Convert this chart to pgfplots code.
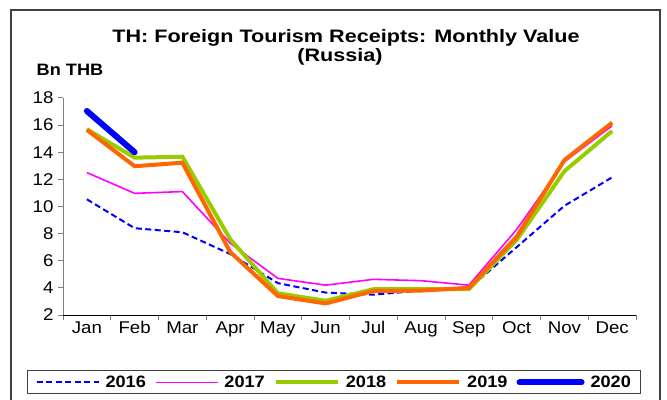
\documentclass[border=0pt]{standalone}
\usepackage{fontspec}
\setmainfont{Liberation Sans}[FakeStretch=1.1]
\newfontfamily\titlefont{Liberation Sans}[FakeStretch=1.2]
\usepackage{pgfplots}
\pgfplotsset{compat=1.18}
\definecolor{c16}{RGB}{0,0,255}
\definecolor{c17}{RGB}{255,0,255}
\definecolor{c18}{RGB}{153,204,0}
\definecolor{c19}{RGB}{255,102,0}
\definecolor{c20}{RGB}{0,0,255}
\definecolor{framegray}{RGB}{64,64,64}
\begin{document}
\begin{tikzpicture}
\path[use as bounding box] (0,0) rectangle (667bp,400bp);
\draw[framegray, line width=1.2bp] (11bp,0bp) -- (11bp,390bp) -- (660bp,390bp) -- (660bp,0bp);
\node[anchor=base, font=\titlefont\fontsize{18bp}{21bp}\bfseries, inner sep=0pt] at (346bp,357.3bp) {TH: Foreign Tourism Receipts: Monthly Value};
\node[anchor=base, font=\titlefont\fontsize{18bp}{21bp}\bfseries, inner sep=0pt] at (340bp,338bp) {(Russia)};
\node[anchor=base west, font=\fontsize{16.5bp}{19bp}\bfseries, inner sep=0pt] at (36.5bp,324bp) {Bn THB};
\begin{axis}[
  at={(63bp,85bp)}, anchor=south west,
  scale only axis, width=573bp, height=217bp,
  xmin=-0.5, xmax=11.5, ymin=2, ymax=18,
  axis lines*=left,
  x axis line style={black, line width=1bp},
  y axis line style={gray, line width=1bp},
  tick align=outside,
  major tick length=5bp,
  every tick/.style={gray, line width=1bp},
  xtick={-0.5,0.5,...,11.5},
  xticklabels={},
  extra x ticks={0,1,...,11},
  extra x tick labels={Jan,Feb,Mar,Apr,May,Jun,Jul,Aug,Sep,Oct,Nov,Dec},
  extra x tick style={major tick length=0pt, xticklabel style={yshift=-3bp}},
  ytick={2,4,...,18},
  /pgf/number format/assume math mode=true,
  ticklabel style={font=\fontsize{17bp}{20bp}\selectfont},
  yticklabel style={xshift=-1bp},
  legend columns=5,
  legend style={
    at={(axis description cs:-0.0628,-0.311)}, anchor=west,
    draw=framegray, line width=1bp, inner xsep=8bp, inner ysep=3bp,
    font=\fontsize{16.5bp}{19bp}\bfseries,
    /tikz/every even column/.append style={column sep=7bp},
    /tikz/every odd column/.append style={column sep=4bp},
  },
  legend cell align=left,
  legend image code/.code={\draw[#1] (0bp,0bp) -- (62bp,0bp);},
]
\addplot[c16, line width=2bp, dash pattern=on 6bp off 3.5bp] coordinates {
(0,10.53) (1,8.4) (2,8.1) (3,6.5) (4,4.35) (5,3.65) (6,3.5) (7,3.8) (8,3.95) (9,7.0) (10,10.05) (11,12.15)};
\addlegendentry{2016}
\addplot[c17, line width=1.6bp] coordinates {
(0,12.5) (1,10.97) (2,11.1) (3,7.3) (4,4.7) (5,4.2) (6,4.63) (7,4.53) (8,4.2) (9,8.3) (10,13.3) (11,15.95)};
\addlegendentry{2017}
\addplot[c18, line width=4bp] coordinates {
(0,15.7) (1,13.6) (2,13.67) (3,7.6) (4,3.6) (5,3.05) (6,3.9) (7,3.9) (8,3.9) (9,7.53) (10,12.6) (11,15.57)};
\addlegendentry{2018}
\addplot[c19, line width=4bp] coordinates {
(0,15.65) (1,12.97) (2,13.23) (3,6.65) (4,3.4) (5,2.85) (6,3.77) (7,3.8) (8,4.0) (9,7.77) (10,13.42) (11,16.18)};
\addlegendentry{2019}
\addplot[c20, line width=6bp, line cap=round] coordinates {
(0,17.04) (1,14.0)};
\addlegendentry{2020}
\end{axis}
\end{tikzpicture}
\end{document}
